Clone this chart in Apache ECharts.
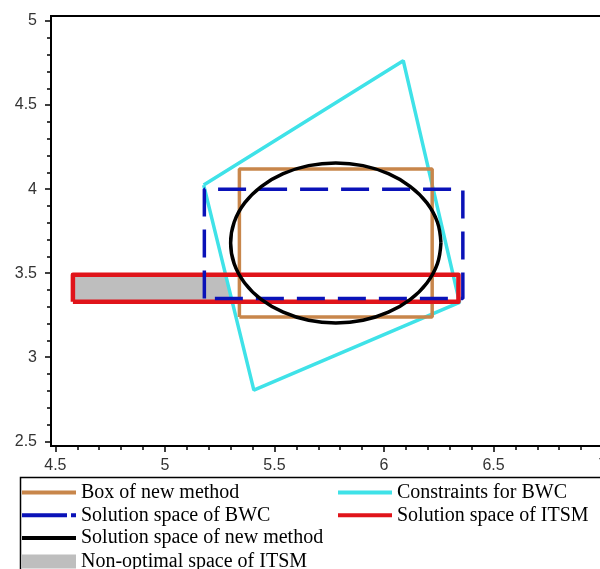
<!DOCTYPE html>
<html><head><meta charset="utf-8">
<script src="https://cdn.jsdelivr.net/npm/echarts@6/dist/echarts.min.js"></script>
<style>html,body{margin:0;padding:0;background:#fff}#c{width:600px;height:569px}</style>
</head><body><div id="c"></div>
<script>
// Tick labels
const xTickLabels = [4.5, 5, 5.5, 6, 6.5, 7];
const yTickLabels = [2.5, 3, 3.5, 4, 4.5, 5];
const xMinorTicks = [4.6,4.7,4.8,4.9,5.1,5.2,5.3,5.4,5.6,5.7,5.8,5.9,6.1,6.2,6.3,6.4,6.6,6.7,6.8,6.9];
const yMinorTicks = [2.6,2.7,2.8,2.9,3.1,3.2,3.3,3.4,3.6,3.7,3.8,3.9,4.1,4.2,4.3,4.4,4.6,4.7,4.8,4.9];

// Series names
const names = {
  box: 'Box of new method',
  cons: 'Constraints for BWC',
  bwc: 'Solution space of BWC',
  itsm: 'Solution space of ITSM',
  nm: 'Solution space of new method',
  nonopt: 'Non-optimal space of ITSM'
};

// Shapes (x, y)
const boxNewMethod = [[5.34,3.24],[6.22,3.24],[6.22,4.12],[5.34,4.12],[5.34,3.24]];
const constraintsBWC = [[5.177,4.024],[6.088,4.764],[6.345,3.327],[5.406,2.804],[5.177,4.024]];
const solutionBWC = [[5.18,3.35],[5.18,4.00],[6.36,4.00],[6.36,3.35],[5.18,3.35]];
const solutionITSM = [[4.58,3.33],[6.34,3.33],[6.34,3.49],[4.58,3.49],[4.58,3.33]];
const solutionNewMethod = [
  [6.260,3.680],[6.244,3.803],[6.196,3.918],[6.119,4.017],[6.020,4.092],[5.904,4.140],
  [5.780,4.156],[5.656,4.140],[5.540,4.092],[5.441,4.017],[5.364,3.918],[5.316,3.803],
  [5.300,3.680],[5.316,3.557],[5.364,3.442],[5.441,3.343],[5.540,3.268],[5.656,3.220],
  [5.780,3.204],[5.904,3.220],[6.020,3.268],[6.119,3.343],[6.196,3.442],[6.244,3.557],
  [6.260,3.680]
];
const nonOptimalITSM = [[4.58,3.33],[4.58,3.49],[5.28,3.49],[5.31,3.33]];

const colors = {
  box: '#C8864B', cons: '#3FE2E8', bwc: '#0A12B8', itsm: '#E0141A', nm: '#000000', nonopt: '#BEBEBE'
};

const chart = echarts.init(document.getElementById('c'), null, {renderer: 'canvas'});

const lineIcon = 'path://M0,0H54V4H0Z';
const dashIcon = 'path://M0,0H45V4H0ZM49,0H54V4H49Z';
const rectIcon = 'path://M0,0H54V14H0Z';

function legendItem(key, left, top, icon, h) {
  return {
    left: left, top: top, padding: 0, orient: 'horizontal', selectedMode: false,
    itemWidth: 54, itemHeight: h,
    itemStyle: {borderWidth: 0},
    textStyle: {fontFamily: 'Liberation Serif', fontSize: 20, lineHeight: 20, color: '#000'},
    data: [{name: names[key], icon: icon, itemStyle: {color: colors[key], borderWidth: 0}}]
  };
}

const axisFont = {fontFamily: 'Liberation Sans', fontSize: 16, color: '#333'};

const option = {
  animation: false,
  backgroundColor: '#fff',
  grid: {left: 51, top: 16, width: 563, height: 430, outerBoundsMode: 'none', containLabel: false,
    show: true, borderColor: '#000', borderWidth: 2, backgroundColor: 'transparent'},
  xAxis: [{
    type: 'value', min: 4.48, max: 7.05, position: 'bottom',
    axisLine: {onZero: false, lineStyle: {color: '#000', width: 1.5}},
    axisTick: {customValues: xTickLabels, length: 6, lineStyle: {color: '#000', width: 1.5}},
    axisLabel: Object.assign({customValues: xTickLabels, margin: 12}, axisFont),
    splitLine: {show: false}
  }, {
    type: 'value', min: 4.48, max: 7.05, position: 'bottom',
    axisLine: {show: false, onZero: false},
    axisTick: {customValues: xMinorTicks, length: 4, lineStyle: {color: '#000', width: 1.5}},
    axisLabel: {show: false},
    splitLine: {show: false}
  }],
  yAxis: [{
    type: 'value', min: 2.472, max: 5.03, position: 'left',
    axisLine: {onZero: false, lineStyle: {color: '#000', width: 1.5}},
    axisTick: {customValues: yTickLabels, length: 6, lineStyle: {color: '#000', width: 1.5}},
    axisLabel: Object.assign({customValues: yTickLabels, margin: 14}, axisFont),
    splitLine: {show: false}
  }, {
    type: 'value', min: 2.472, max: 5.03, position: 'left',
    axisLine: {show: false, onZero: false},
    axisTick: {customValues: yMinorTicks, length: 4, lineStyle: {color: '#000', width: 1.5}},
    axisLabel: {show: false},
    splitLine: {show: false}
  }],
  legend: [
    legendItem('box', 22, 482.5, lineIcon, 4),
    legendItem('bwc', 22, 505.3, dashIcon, 4),
    legendItem('nm', 22, 528.1, lineIcon, 4),
    legendItem('nonopt', 22, 551.5, rectIcon, 14),
    legendItem('cons', 338, 482.5, lineIcon, 4),
    legendItem('itsm', 338, 505.3, lineIcon, 4)
  ],
  graphic: [{
    type: 'rect', left: 18, top: 475, z: -1, silent: true,
    shape: {width: 620, height: 120},
    style: {fill: 'none', stroke: '#000', lineWidth: 1.5}
  }],
  series: [
    {
      type: 'custom', name: names.nonopt, xAxisIndex: 0, yAxisIndex: 0,
      data: [nonOptimalITSM.flat()],
      encode: {x: [0, 2, 4, 6], y: [1, 3, 5, 7]},
      renderItem: function (params, api) {
        const pts = [];
        for (let i = 0; i < 4; i++) pts.push(api.coord([api.value(2 * i), api.value(2 * i + 1)]));
        return {type: 'polygon', shape: {points: pts}, style: {fill: colors.nonopt}};
      }
    },
    {type: 'line', name: names.cons, data: constraintsBWC, symbol: 'none', lineStyle: {color: colors.cons, width: 3.5}, itemStyle: {color: colors.cons}},
    {type: 'line', name: names.box, data: boxNewMethod, symbol: 'none', lineStyle: {color: colors.box, width: 3.5}, itemStyle: {color: colors.box}},
    {type: 'line', name: names.itsm, data: solutionITSM, symbol: 'none', lineStyle: {color: colors.itsm, width: 4.5, join: 'round'}, itemStyle: {color: colors.itsm}},
    {type: 'line', name: names.bwc, data: solutionBWC, symbol: 'none', lineStyle: {color: colors.bwc, width: 3.5, type: [28, 13]}, itemStyle: {color: colors.bwc}},
    {type: 'line', name: names.nm, data: solutionNewMethod, symbol: 'none', smooth: 0.4, lineStyle: {color: colors.nm, width: 3.5}, itemStyle: {color: colors.nm}}
  ]
};
chart.setOption(option);
</script></body></html>
